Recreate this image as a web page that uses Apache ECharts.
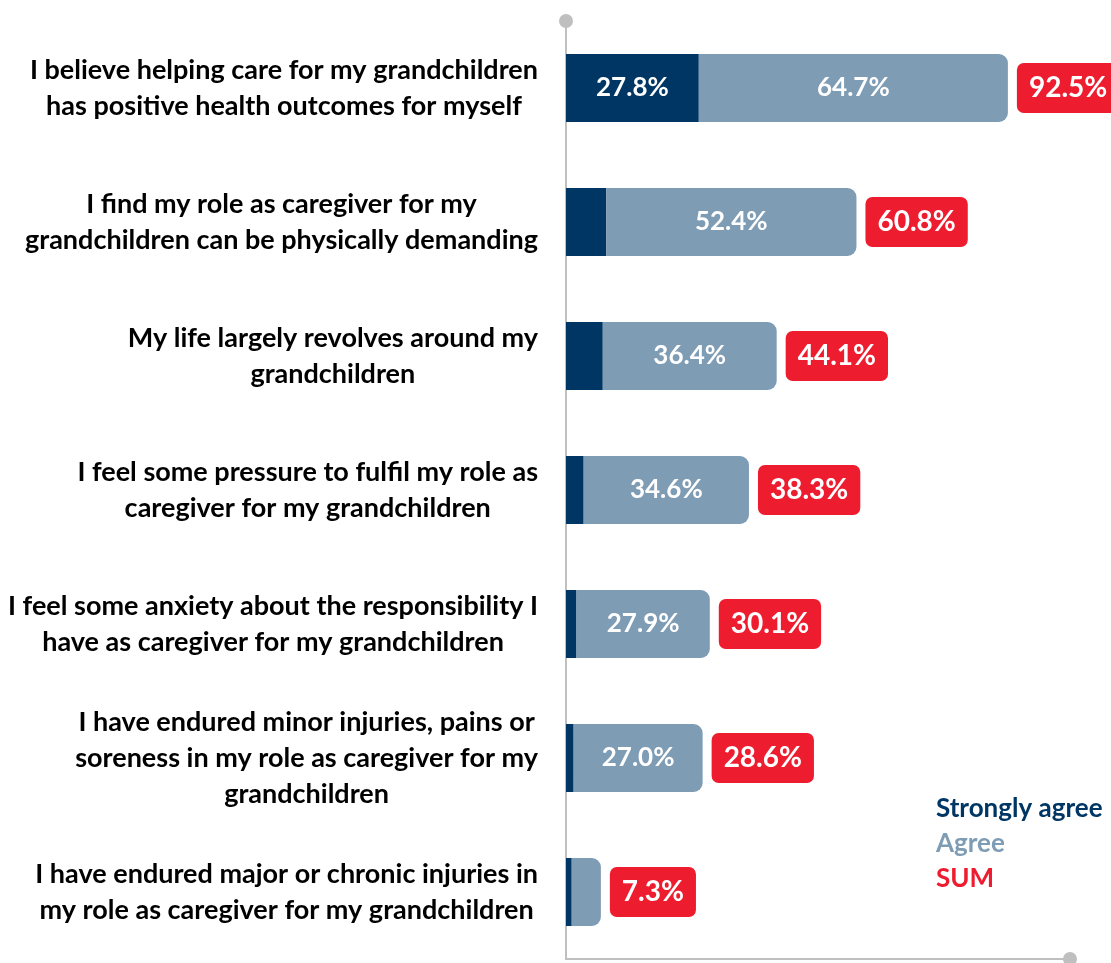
<!DOCTYPE html>
<html>
<head>
<meta charset="utf-8">
<script src="https://cdn.jsdelivr.net/npm/echarts@6/dist/echarts.min.js"></script>
<style>html,body{margin:0;padding:0;background:#fff}#c{width:1111px;height:963px}</style>
</head>
<body>
<div id="c"></div>
<script>
const categories = [
  "I believe helping care for my grandchildren\nhas positive health outcomes for myself",
  "I find my role as caregiver for my\ngrandchildren can be physically demanding",
  "My life largely revolves around my\ngrandchildren",
  "I feel some pressure to fulfil my role as\ncaregiver for my grandchildren",
  "I feel some anxiety about the responsibility I\nhave as caregiver for my grandchildren",
  "I have endured minor injuries, pains or\nsoreness in my role as caregiver for my\ngrandchildren",
  "I have endured major or chronic injuries in\nmy role as caregiver for my grandchildren"
];
const stronglyAgree = [27.8, 8.4, 7.7, 3.7, 2.2, 1.6, 1.2];
const agree = [64.7, 52.4, 36.4, 34.6, 27.9, 27.0, 6.1];
const sumValues = [92.5, 60.8, 44.1, 38.3, 30.1, 28.6, 7.3];

const NAVY = '#003664', LIGHT = '#7f9cb5', RED = '#ed1c2e', GREY = '#bfbfbf';
const FONT = 'Lato';

const chart = echarts.init(document.getElementById('c'), null, {renderer: 'canvas'});
chart.setOption({
  animation: false,
  textStyle: {fontFamily: FONT},
  grid: {left: 566, right: 41, top: 21, bottom: 4, containLabel: false},
  legend: {
    orient: 'vertical', left: 926, top: 786, itemGap: 0,
    itemWidth: 0, itemHeight: 0, selectedMode: false,
    textStyle: {fontFamily: FONT, fontWeight: 'bold', fontSize: 26, lineHeight: 35},
    data: [
      {name: 'Strongly agree', textStyle: {color: NAVY}},
      {name: 'Agree', textStyle: {color: LIGHT}},
      {name: 'SUM', textStyle: {color: RED}}
    ]
  },
  xAxis: {
    type: 'value', min: 0, max: 105.5,
    axisLine: {show: true, lineStyle: {color: GREY, width: 2}, symbol: ['none', 'circle'], symbolSize: [14, 14]},
    axisTick: {show: false}, axisLabel: {show: false}, splitLine: {show: false}
  },
  yAxis: {
    type: 'category', inverse: true, data: categories,
    axisLine: {show: true, lineStyle: {color: GREY, width: 2}, symbol: ['none', 'circle'], symbolSize: [14, 14]},
    axisTick: {show: false},
    axisLabel: {
      margin: 28, align: 'right',
      formatter: v => v.split('\n').map(l => '{c|' + l + '}').join('\n'),
      rich: {c: {align: 'center', fontFamily: FONT, fontWeight: 'bold', fontSize: 27, lineHeight: 36, color: '#000'}}
    }
  },
  series: [
    {
      name: 'Strongly agree', type: 'bar', stack: 'a', barWidth: 68, data: stronglyAgree,
      itemStyle: {color: NAVY},
      label: {show: true, position: 'inside', color: '#fff', fontFamily: FONT, fontWeight: 'bold', fontSize: 26,
        formatter: p => p.value >= 10 ? p.value.toFixed(1) + '%' : ''}
    },
    {
      name: 'Agree', type: 'bar', stack: 'a', barWidth: 68, data: agree,
      itemStyle: {color: LIGHT, borderRadius: [0, 9, 9, 0]},
      label: {show: true, position: 'inside', color: '#fff', fontFamily: FONT, fontWeight: 'bold', fontSize: 26,
        formatter: p => p.value >= 10 ? p.value.toFixed(1) + '%' : ''}
    },
    {
      name: 'SUM', type: 'bar', barWidth: 68, barGap: '-100%', data: sumValues, silent: true,
      itemStyle: {color: 'rgba(0,0,0,0)'},
      label: {show: true, position: 'right', distance: 9, color: '#fff', backgroundColor: RED,
        borderRadius: 7, padding: [11, 12, 11, 12], fontFamily: FONT, fontWeight: 'bold', fontSize: 28,
        formatter: p => p.value.toFixed(1) + '%'}
    }
  ]
});
</script>
</body>
</html>
